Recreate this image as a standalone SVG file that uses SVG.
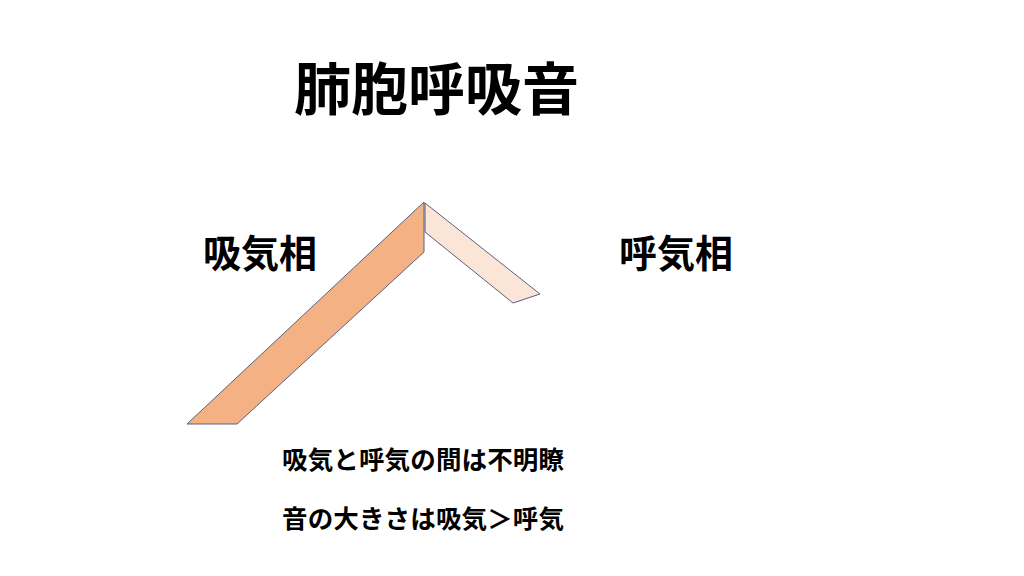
<svg xmlns="http://www.w3.org/2000/svg" width="1024" height="576" viewBox="0 0 1024 576">
<style>
text{font-family:"Noto Sans CJK JP","Noto Sans CJK SC",sans-serif;font-weight:bold;fill:#000}
.t{font-size:57px}
.h{font-size:38px}
.s{font-size:25.5px}
.band{stroke:#5a6080;stroke-width:1;stroke-linejoin:miter}
</style>
<rect width="1024" height="576" fill="#fff"/>
<g id="title"><text class="t" x="294" y="110" textLength="285">肺胞呼吸音</text></g>
<g id="inhale-label"><text class="h" x="203" y="267">吸気相</text></g>
<g id="exhale-label"><text class="h" x="619" y="267">呼気相</text></g>
<g id="inhale-band"><polygon class="band" fill="#f4b183" points="424,202 424,252 237,424 187,424"/></g>
<g id="exhale-band"><polygon class="band" fill="#fbe5d6" points="425,203 540,294 513,303 425,232"/></g>
<g id="note1"><text class="s" x="282" y="469" textLength="282">吸気と呼気の間は不明瞭</text></g>
<g id="note2"><text class="s" x="282" y="528" textLength="282">音の大きさは吸気＞呼気</text></g>
</svg>
